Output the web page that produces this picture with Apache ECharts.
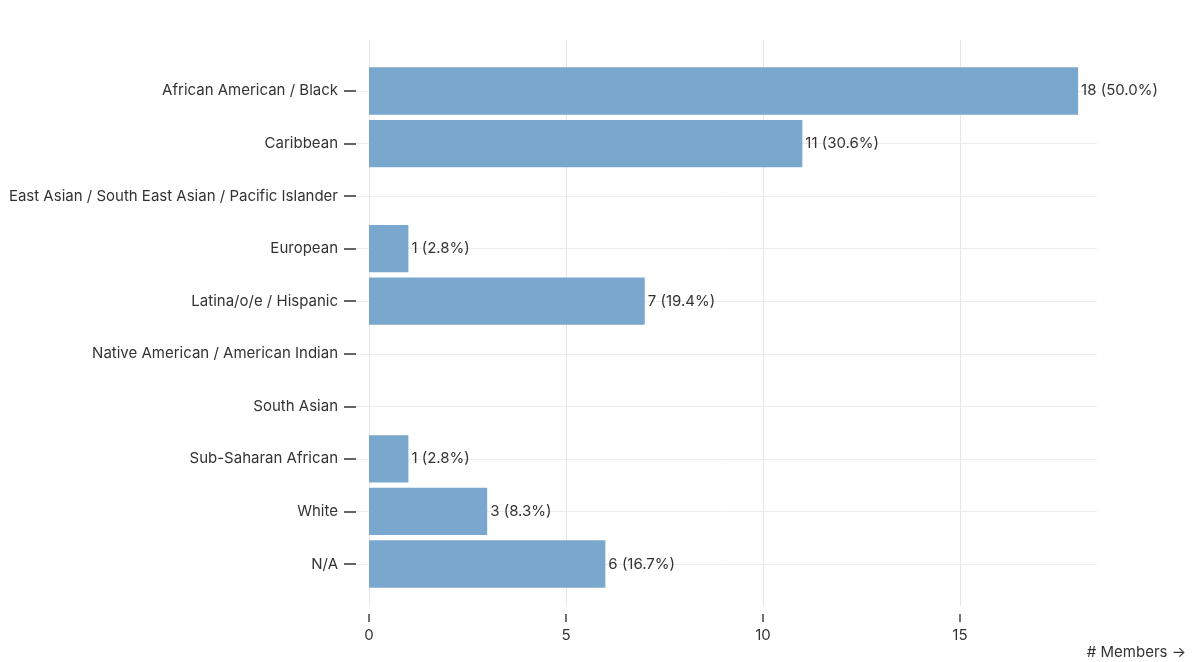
<!DOCTYPE html>
<html><head><meta charset="utf-8">
<script src="https://cdn.jsdelivr.net/npm/echarts@6/dist/echarts.min.js"></script>
<style>html,body{margin:0;padding:0;background:#fff}#c{width:1193px;height:662px}</style>
</head><body><div id="c"></div>
<script>
const categories = [
  'African American / Black',
  'Caribbean',
  'East Asian / South East Asian / Pacific Islander',
  'European',
  'Latina/o/e / Hispanic',
  'Native American / American Indian',
  'South Asian',
  'Sub-Saharan African',
  'White',
  'N/A'
];
const members = [18, 11, 0, 1, 7, 0, 0, 1, 3, 6];
const percents = [50.0, 30.6, 0, 2.8, 19.4, 0, 0, 2.8, 8.3, 16.7];
const xTicks = [0, 5, 10, 15];
const xMin = 0;
const xMax = 18.48;
const axisTitle = '# Members \u2192';

const FONT = 'Inter, "Noto Sans", sans-serif';
const PX_PER_UNIT = (1097 - 369) / (xMax - xMin);
const barGridLeft = 356;
const barAxisMin = xMin - (369 - barGridLeft) / PX_PER_UNIT;
const plotTop = 64.7, plotHeight = 525.6;
const band = plotHeight / categories.length;

const chart = echarts.init(document.getElementById('c'), null, {renderer: 'canvas'});
chart.setOption({
  animation: false,
  backgroundColor: '#fff',
  textStyle: {fontFamily: FONT},
  grid: [
    {left: barGridLeft, right: 96, top: plotTop, height: plotHeight},
    {left: 369, right: 96, top: 40, bottom: 56},
    {left: 369, right: 96, top: 40, bottom: 48},
    {left: barGridLeft, right: 96, top: plotTop + band / 2, height: plotHeight - band}
  ],
  xAxis: [
    {type: 'value', gridIndex: 0, min: barAxisMin, max: xMax, show: false, splitLine: {show: false}},
    {
      type: 'value', gridIndex: 1, min: xMin, max: xMax, interval: 5,
      axisLine: {show: false}, axisTick: {show: false}, axisLabel: {show: false},
      splitLine: {show: true, showMaxLine: false, lineStyle: {color: '#e6e6e6', width: 1}}
    },
    {
      type: 'value', gridIndex: 2, min: xMin, max: xMax, interval: 5,
      axisLine: {show: false, onZero: false},
      splitLine: {show: false},
      axisTick: {show: true, inside: false, length: 8, customValues: xTicks, lineStyle: {color: '#444', width: 1.5}},
      axisLabel: {customValues: xTicks, margin: 14, color: '#333', fontSize: 15, fontFamily: FONT}
    },
    {type: 'value', gridIndex: 3, min: barAxisMin, max: xMax, show: false, splitLine: {show: false}}
  ],
  yAxis: [
    {
      type: 'category', gridIndex: 0, data: categories, inverse: true,
      axisLine: {show: false, onZero: false},
      axisTick: {show: true, inside: false, alignWithLabel: true, length: 12, lineStyle: {color: '#333', width: 1.5}},
      axisLabel: {margin: 18, color: '#333', fontSize: 15, fontFamily: FONT},
      splitLine: {show: false}
    },
    {type: 'category', gridIndex: 1, data: categories, show: false},
    {type: 'category', gridIndex: 2, data: categories, show: false},
    {
      type: 'value', gridIndex: 3, min: 0, max: categories.length - 1, interval: 1,
      axisLine: {show: false, onZero: false}, axisTick: {show: false}, axisLabel: {show: false},
      splitLine: {show: true, lineStyle: {color: '#ececec', width: 1}}
    }
  ],
  series: [{
    type: 'bar',
    xAxisIndex: 0, yAxisIndex: 0,
    data: members,
    barCategoryGap: '10%',
    itemStyle: {color: '#79a7cd'},
    z: 3,
    label: {
      show: true, position: 'right', distance: 3,
      color: '#333', fontSize: 15, fontFamily: FONT,
      formatter: p => members[p.dataIndex] ? `${members[p.dataIndex]} (${percents[p.dataIndex].toFixed(1)}%)` : ''
    }
  }],
  graphic: [{
    type: 'text', right: 7, bottom: 2,
    style: {text: axisTitle, fill: '#333', font: '15px ' + FONT}
  }]
});
</script></body></html>
